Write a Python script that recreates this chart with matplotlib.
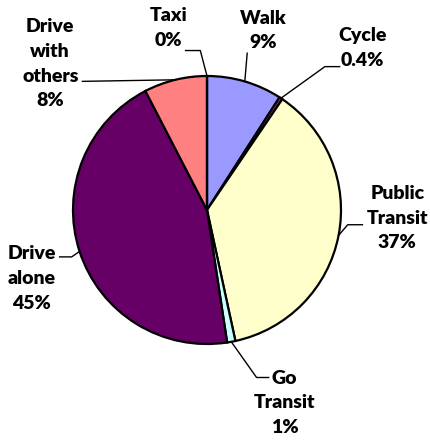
import numpy as np
import matplotlib.pyplot as plt

modes = ["Walk", "Cycle", "Public\nTransit", "Go\nTransit", "Drive\nalone", "Drive\nwith\nothers", "Taxi"]
shares = [9.1, 0.4, 37.1, 1.0, 44.8, 7.6, 0.0]
colors = ["#9999FF", "#993366", "#FFFFCC", "#CCFFFF", "#660066", "#FF8080", "#0066CC"]

# label centre and leader start (text side) / elbow, in radius units
label_pos = [(0.42, 1.34), (1.16, 1.21), (1.42, -0.06), (0.58, -1.44),
             (-1.31, -0.51), (-1.17, 1.09), (-0.29, 1.36)]
leader_start = [(0.30, 1.17), (0.99, 1.07), (1.16, -0.11), (0.46, -1.25),
                (-1.10, -0.35), (-0.93, 0.96), (-0.16, 1.19)]
leader_elbow = [None, (0.88, 1.07), (1.05, -0.11), (0.37, -1.25),
                (-1.01, -0.35), None, (-0.05, 1.19)]


def fmt(v):
    if 0 < v < 1:
        return f"{v:.1f}%"
    return f"{v:.0f}%"


fig = plt.figure(figsize=(4.3, 4.42), dpi=100)
ax = fig.add_axes([(207 - 134) / 430, (442 - 210 - 134) / 442, 268 / 430, 268 / 442])

wedges, _ = ax.pie(shares, colors=colors, startangle=90, counterclock=False,
                   radius=1.0, wedgeprops=dict(edgecolor="black", linewidth=1.6))
ax.set_xlim(-1, 1)
ax.set_ylim(-1, 1)
ax.set_aspect("equal")
ax.axis("off")

for w, name, v, lp, ls, le in zip(wedges, modes, shares, label_pos, leader_start, leader_elbow):
    mid = np.deg2rad((w.theta1 + w.theta2) / 2)
    edge = (np.cos(mid), np.sin(mid))
    xs = [ls[0]]
    ys = [ls[1]]
    if le is not None:
        xs.append(le[0])
        ys.append(le[1])
    xs.append(edge[0])
    ys.append(edge[1])
    ax.plot(xs, ys, color="black", lw=1.0, clip_on=False)
    ax.text(lp[0], lp[1], name + "\n" + fmt(v), ha="center", va="center",
            fontsize=14, fontweight="heavy", family=["Lato", "DejaVu Sans"],
            linespacing=1.55, clip_on=False)

fig.savefig("out.png", dpi=100)
